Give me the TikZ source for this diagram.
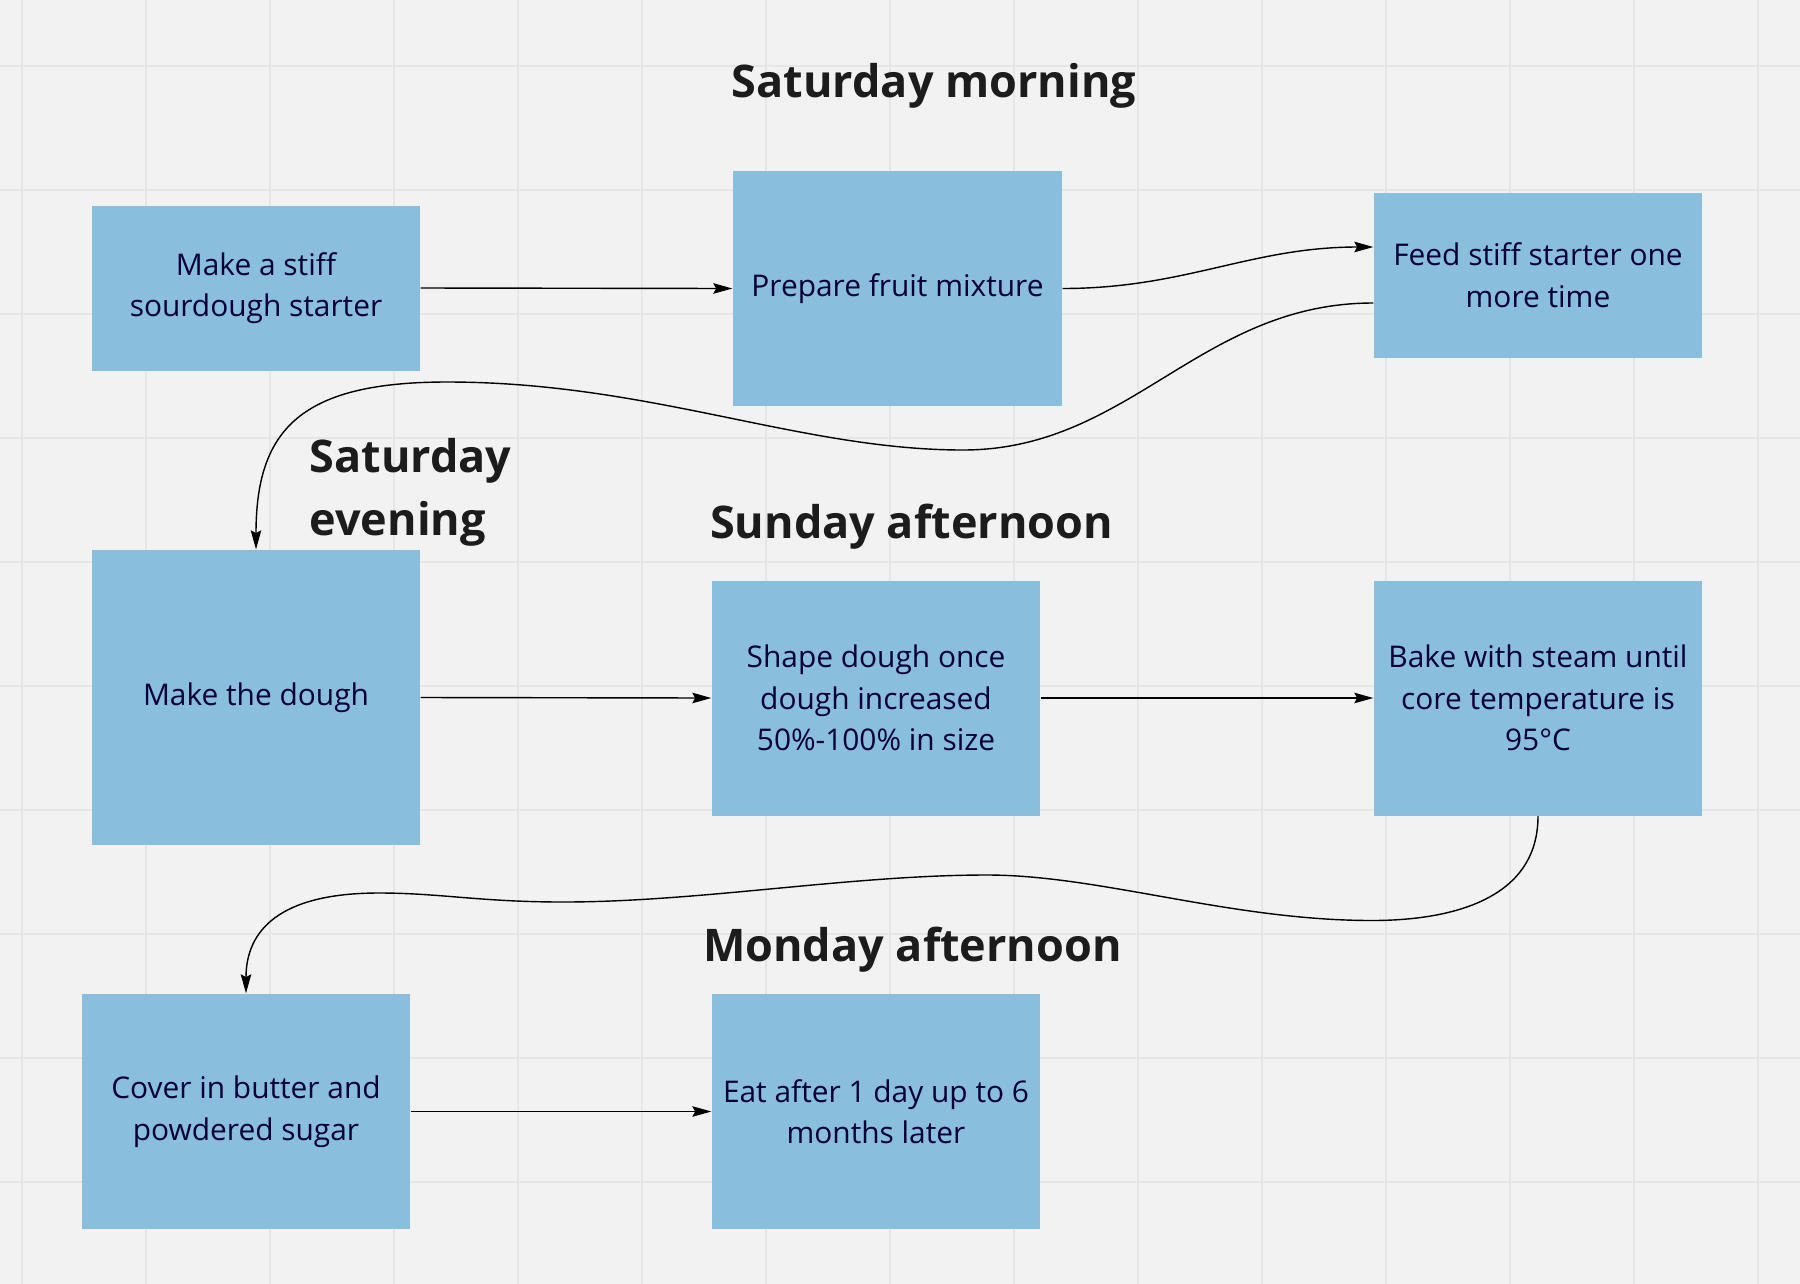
\documentclass[tikz,border=0pt]{standalone}
\usepackage{fontspec}
\setmainfont{Open Sans}
\usetikzlibrary{arrows.meta}
\definecolor{boardbg}{HTML}{F2F2F2}
\definecolor{gridgray}{HTML}{E6E6E6}
\definecolor{cardblue}{HTML}{89BEDC}
\definecolor{inknavy}{HTML}{050038}
\definecolor{headgray}{HTML}{1C1C1C}
\begin{document}
\begin{tikzpicture}[
  card/.style={rectangle, fill=cardblue, text=inknavy, minimum width=3.28cm, inner sep=0pt, align=center, font=\fontsize{8.5}{11.8}\selectfont},
  daytitle/.style={text=headgray, inner sep=0pt, font=\bfseries\fontsize{12.8}{18}\selectfont},
  arr/.style={-{Stealth[length=5.4pt, width=3pt, inset=0.8pt]}, line width=0.4pt, black},
  gridline/.style={gridgray, line width=0.6pt}
]

\fill[boardbg] (0,0) rectangle (18,-12.84);
\useasboundingbox (0,0) rectangle (18,-12.84);
\foreach \x in {0,...,14} \draw[gridline] (0.218+1.24*\x,0) -- ++(0,-12.84);
\foreach \y in {0,...,9} \draw[gridline] (0,-0.657-1.24*\y) -- ++(18,0);

\node[daytitle, anchor=base] (sat) at (9.34,-0.975) {Saturday morning};
\node[daytitle, anchor=base] (sun) at (9.115,-5.38) {Sunday afternoon};
\node[daytitle, anchor=base] (mon) at (9.125,-9.61) {Monday afternoon};
\node[daytitle, anchor=north west, align=left] (eve) at (3.09,-4.375) {Saturday\\evening};

\node[card, minimum height=1.65cm] (starter) at (2.56,-2.88) {Make a stiff\\sourdough starter};
\node[card, minimum height=2.35cm, minimum width=3.29cm] (fruit) at (8.975,-2.885) {Prepare fruit mixture};
\node[card, minimum height=1.65cm] (feed) at (15.38,-2.75) {Feed stiff starter one\\more time};

\node[card, minimum height=2.95cm] (dough) at (2.56,-6.975) {Make the dough};
\node[card, minimum height=2.35cm] (shape) at (8.76,-6.98) {Shape dough once\\dough increased\\50\%-100\% in size};
\node[card, minimum height=2.35cm] (bake) at (15.38,-6.98) {Bake with steam until\\core temperature is\\95°C};

\node[card, minimum height=2.35cm] (cover) at (2.46,-11.115) {Cover in butter and\\powdered sugar};
\node[card, minimum height=2.35cm] (eat) at (8.76,-11.115) {Eat after 1 day up to 6\\months later};

\draw[arr] (starter.east) -- (fruit.west);
\draw[arr] (fruit.east) to[out=0, in=180] ([yshift=0.28cm]feed.west);
\draw[arr] ([yshift=-0.28cm]feed.west) .. controls (12.0,-3.03) and (11.3,-4.5) .. (9.63,-4.5)
  .. controls (8.0,-4.5) and (6.5,-3.82) .. (4.47,-3.82)
  .. controls (3.0,-3.82) and (2.56,-4.3) .. (dough.north);

\draw[arr] (dough.east) -- (shape.west);
\draw[arr] (shape.east) -- (bake.west);
\draw[arr] (bake.south) .. controls (15.38,-9.0) and (14.5,-9.205) .. (13.72,-9.205)
  .. controls (12.3,-9.205) and (11.0,-8.75) .. (9.87,-8.75)
  .. controls (8.5,-8.75) and (7.0,-9.02) .. (5.63,-9.02)
  .. controls (4.8,-9.02) and (4.4,-8.93) .. (3.79,-8.93)
  .. controls (2.8,-8.93) and (2.46,-9.3) .. (cover.north);

\draw[arr] (cover.east) -- (eat.west);

\end{tikzpicture}
\end{document}
